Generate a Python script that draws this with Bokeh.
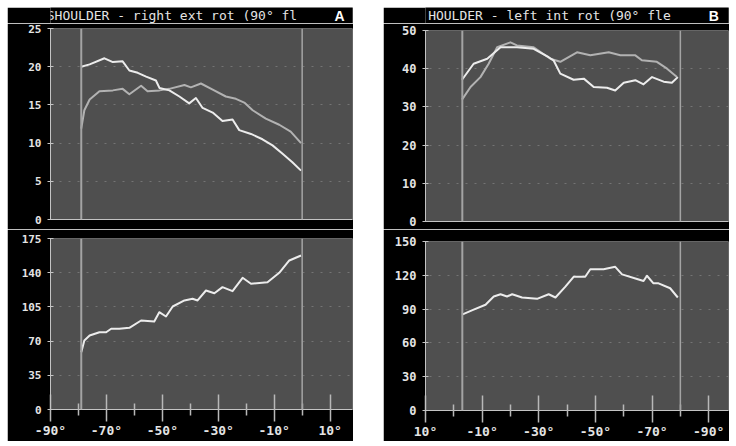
from bokeh.plotting import figure
from bokeh.models import Range1d, FixedTicker, Span, Spacer
from bokeh.layouts import row, column
from bokeh.core.properties import value
from bokeh.embed import file_html
from bokeh.resources import INLINE

# ---------------- data ----------------
TITLE_A = "SHOULDER - right ext rot (90° fl"
TITLE_B = "HOULDER - left int rot (90° fle"

A_TOP_TICKS = [0, 5, 10, 15, 20, 25]
A_BOT_TICKS = [0, 35, 70, 105, 140, 175]
B_TOP_TICKS = [0, 10, 20, 30, 40, 50]
B_BOT_TICKS = [0, 30, 60, 90, 120, 150]
X_MAJOR = [-90, -70, -50, -30, -10, 10]
X_MINOR = [-80, -60, -40, -20, 0]
X_LABELS = ["-90°", "-70°", "-50°", "-30°", "-10°", "10°"]

A_VLINES = [-79, 0]
B_VLINES = [-3, -80]

a_top_white_x = [-79, -76, -70.7, -67.7, -64.2, -61.8, -58.8, -55.8, -52.3, -51, -47.5, -43.9, -40.4,
                 -38, -35.6, -32, -28.5, -24.9, -22.5, -18.3, -14.2, -10.6, -7, -3.5, -0.4]
a_top_white_y = [20.0, 20.3, 21.1, 20.6, 20.7, 19.5, 19.2, 18.7, 18.2, 17.2, 16.9, 16.1, 15.2,
                 15.9, 14.6, 14.0, 12.9, 13.1, 11.7, 11.2, 10.5, 9.7, 8.6, 7.5, 6.4]

a_top_gray_x = [-79, -77.9, -76, -72.5, -67.7, -64.2, -61.8, -57.6, -55.3, -51, -47.5, -42.1,
                -39.8, -36.2, -32, -27.3, -23.7, -20.7, -17.7, -13, -8.2, -4.1, -0.4]
a_top_gray_y = [11.9, 14.3, 15.7, 16.8, 16.9, 17.1, 16.4, 17.5, 16.8, 16.9, 17.1, 17.6,
                17.3, 17.8, 17.0, 16.1, 15.8, 15.3, 14.3, 13.2, 12.4, 11.5, 10.0]

a_bot_x = [-79, -77.9, -76, -72.5, -70.1, -68.3, -65.4, -61.8, -57.6, -52.9, -51.1, -48.7, -46.3,
           -42.1, -39.2, -37.4, -34.4, -31.4, -28.5, -24.9, -21.3, -18.3, -12.4, -8.2, -4.6, -0.4]
a_bot_y = [58.6, 70.6, 75.7, 79.1, 79.1, 82.6, 82.6, 83.6, 91.1, 90.1, 99.6, 95.2, 105.4,
           111.6, 113.3, 111.6, 121.8, 119.0, 125.2, 121.1, 134.8, 128.7, 130.3, 139.9, 152.5, 157.6]

b_top_white_x = [-2.9, -7.0, -11.8, -16.5, -22.3, -28.2, -33.5, -35.3, -37.6, -42.3, -45.9, -49.4,
                 -54.1, -57.0, -60.0, -64.1, -67.0, -70.0, -74.1, -77.0, -79.1]
b_top_white_y = [37.1, 41.3, 42.6, 45.6, 45.6, 45.2, 43.0, 42.1, 38.7, 37.1, 37.4, 35.2,
                 35.0, 34.3, 36.3, 37.0, 35.9, 37.8, 36.6, 36.3, 37.8]

b_top_gray_x = [-2.9, -5.9, -9.4, -12.3, -15.3, -20.0, -22.3, -28.2, -34.1, -37.6, -43.5, -48.2,
                -54.7, -58.8, -64.1, -66.4, -71.7, -75.3, -78.8]
b_top_gray_y = [31.9, 35.2, 37.8, 41.3, 45.6, 46.9, 46.1, 45.6, 42.6, 41.8, 44.3, 43.5,
                44.3, 43.5, 43.5, 42.2, 41.8, 40.0, 37.8]

b_bot_x = [-2.9, -7.0, -11.2, -14.1, -16.5, -18.8, -20.6, -24.1, -29.4, -33.5, -35.9, -39.4, -42.3,
           -46.4, -48.2, -52.9, -57.0, -59.4, -64.7, -67.0, -68.2, -70.5, -72.3, -76.4, -79.1]
b_bot_y = [85.1, 89.5, 93.9, 101.2, 103.2, 101.2, 103.2, 100.3, 99.1, 103.2, 100.3, 109.9, 118.7,
           118.7, 125.4, 125.4, 127.5, 120.8, 116.7, 114.9, 119.6, 112.9, 112.9, 108.5, 100.3]

# ---------------- style ----------------
BG = "#4f4f4f"
AXIS = "#c4c4c4"
TXT = "#e4e4e4"
WHITE = "#ececec"
GRAY = "#b2b2b2"
VLINE = "#a4a4a4"
MONO = "DejaVu Sans Mono"


def title_bar(width, height, title, title_x, letter, letter_x):
    p = figure(width=width, height=height, x_range=Range1d(0, width), y_range=Range1d(0, height),
               x_axis_type=None, y_axis_type=None, output_backend="svg", toolbar_location=None,
               min_border=0, min_border_left=0, min_border_right=0,
               min_border_top=0, min_border_bottom=0)
    p.background_fill_color = "black"
    p.border_fill_color = "black"
    p.outline_line_color = None
    p.grid.visible = False
    p.text(x=[title_x], y=[8], text=[title], text_font=value(MONO), text_font_size="13px",
           text_color=TXT, text_baseline="middle", text_align="left")
    p.text(x=[letter_x], y=[8], text=[letter], text_font=value("Liberation Sans"),
           text_font_style="bold", text_font_size="14px", text_color="white",
           text_baseline="middle", text_align="right")
    return p


def make_fig(width, height, xr, yr, yticks, vlines, borders, bottom_axis, ylabel_size):
    left, right, top, bottom = borders
    p = figure(width=width, height=height, x_range=Range1d(*xr), y_range=Range1d(*yr),
               output_backend="svg", toolbar_location=None,
               min_border_left=left, min_border_right=right,
               min_border_top=top, min_border_bottom=bottom)
    p.background_fill_color = BG
    p.border_fill_color = "black"
    p.outline_line_color = None
    p.xgrid.visible = False
    p.ygrid.ticker = FixedTicker(ticks=yticks)
    p.ygrid.grid_line_color = "#747474"
    p.ygrid.grid_line_dash = "2 7"
    p.ygrid.grid_line_width = 1

    ya = p.yaxis[0]
    ya.ticker = FixedTicker(ticks=yticks)
    ya.axis_line_color = AXIS
    ya.major_tick_line_color = AXIS
    ya.major_tick_in = 3
    ya.major_tick_out = 3
    ya.minor_tick_line_color = None
    ya.major_label_standoff = 6
    ya.major_label_text_color = TXT
    ya.major_label_text_font = MONO
    ya.major_label_text_font_style = "bold"
    ya.major_label_text_font_size = ylabel_size

    xa = p.xaxis[0]
    xa.axis_line_color = AXIS
    if bottom_axis:
        xa.ticker = FixedTicker(ticks=X_MAJOR, minor_ticks=X_MINOR)
        xa.major_label_overrides = {t: l for t, l in zip(X_MAJOR, X_LABELS)}
        xa.major_tick_line_color = "#b8b8b8"
        xa.major_tick_line_width = 1.5
        xa.major_tick_in = 15
        xa.major_tick_out = 12
        xa.minor_tick_line_color = "#b8b8b8"
        xa.minor_tick_line_width = 1.5
        xa.minor_tick_in = 6
        xa.minor_tick_out = 6
        xa.major_label_standoff = 1
        xa.major_label_text_color = TXT
        xa.major_label_text_font = MONO
        xa.major_label_text_font_style = "bold"
        xa.major_label_text_font_size = "13px"
    else:
        xa.ticker = FixedTicker(ticks=[])
        xa.major_tick_line_color = None
        xa.minor_tick_line_color = None
        xa.major_label_text_font_size = "0px"

    for i, v in enumerate(vlines):
        p.add_layout(Span(location=v, dimension="height", line_color=VLINE,
                          line_width=2 if i == 0 else 1.5))
    return p


# ---------------- panel A ----------------
A_XR = (-90, 18)
ta = title_bar(346, 16, TITLE_A, -4.3, "A", 337)
pa1 = make_fig(346, 206, A_XR, (0, 25), A_TOP_TICKS, A_VLINES, (43, 1, 5, 10), False, "11px")
pa1.line(a_top_gray_x, a_top_gray_y, line_color=GRAY, line_width=2, line_join="round")
pa1.line(a_top_white_x, a_top_white_y, line_color=WHITE, line_width=2, line_join="round")

pa2 = make_fig(346, 212, A_XR, (0, 175), A_BOT_TICKS, A_VLINES, (43, 1, 9, 32), True, "11px")
pa2.line(a_bot_x, a_bot_y, line_color=WHITE, line_width=2, line_join="round")

# ---------------- panel B ----------------
B_XR = (10, -97)
tb = title_bar(346, 16, TITLE_B, 3, "B", 335)
pb1 = make_fig(346, 206, B_XR, (0, 50), B_TOP_TICKS, B_VLINES, (42, 1, 7, 8), False, "12px")
pb1.line(b_top_gray_x, b_top_gray_y, line_color=GRAY, line_width=2, line_join="round")
pb1.line(b_top_white_x, b_top_white_y, line_color=WHITE, line_width=2, line_join="round")

pb2 = make_fig(346, 212, B_XR, (0, 150), B_BOT_TICKS, B_VLINES, (42, 1, 12, 29), True, "12px")
pb2.line(b_bot_x, b_bot_y, line_color=WHITE, line_width=2, line_join="round")

layout = column(
    Spacer(width=10, height=7),
    row(Spacer(width=7, height=10),
        column(ta, pa1, pa2),
        Spacer(width=30, height=10),
        column(tb, pb1, pb2)),
)

open("out.html", "w").write(file_html(layout, INLINE))
